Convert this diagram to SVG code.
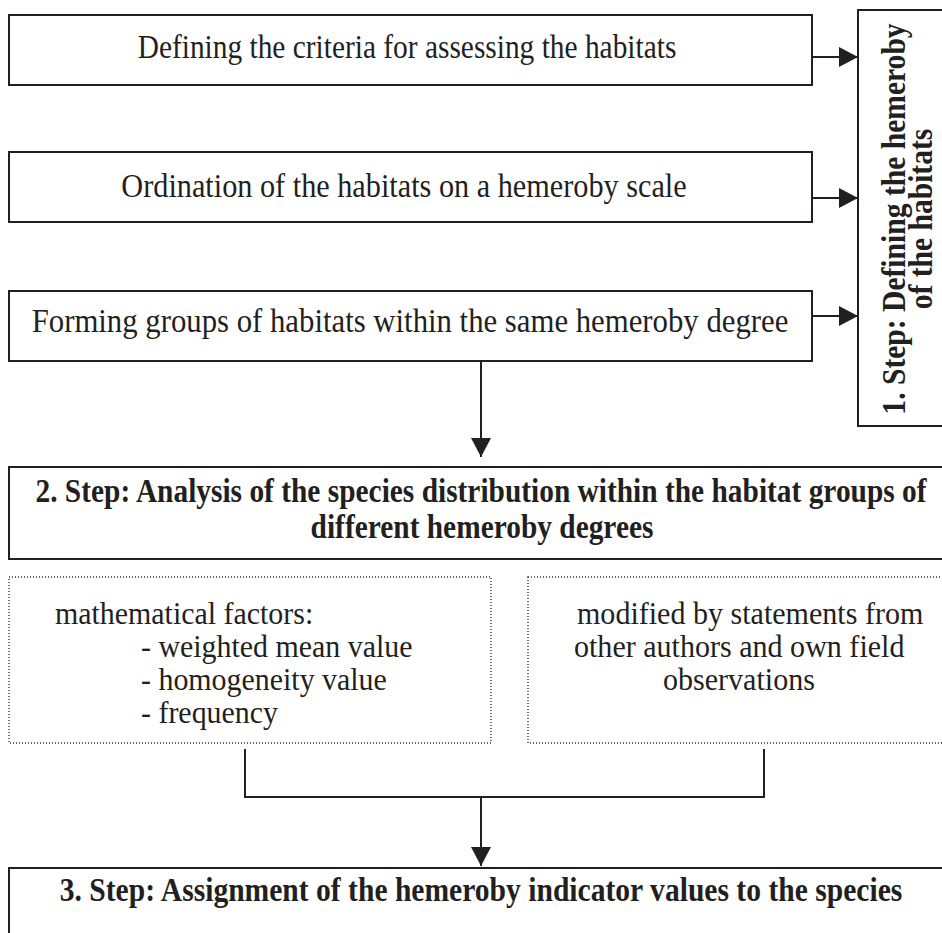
<svg xmlns="http://www.w3.org/2000/svg" width="942" height="933" viewBox="0 0 942 933">
<style>
.box{fill:#fff;stroke:#231f20;stroke-width:2}
.dot{fill:#fff;stroke:#333;stroke-width:1.4;stroke-dasharray:1 2}
.t{font-family:"Liberation Serif","Times New Roman",serif;font-size:34px;fill:#231f20}
.s{font-size:31px}
.b{font-weight:bold}
.m{text-anchor:middle}
.ln{stroke:#231f20;stroke-width:2;fill:none}
</style>
<defs>
<marker id="ah" markerWidth="20" markerHeight="20" refX="19" refY="10" orient="auto" markerUnits="userSpaceOnUse">
<path d="M0,0 L19,10 L0,20 Z" fill="#231f20"/>
</marker>
</defs>
<rect width="942" height="933" fill="#fff"/>
<g id="n1">
<rect class="box" x="9" y="15" width="803" height="70"/>
<text class="t m" transform="translate(407,58) scale(0.865,1)">Defining the criteria for assessing the habitats</text>
</g>
<g id="n2">
<rect class="box" x="9" y="152" width="803" height="70"/>
<text class="t m" transform="translate(404,197) scale(0.89,1)">Ordination of the habitats on a hemeroby scale</text>
</g>
<g id="n3">
<rect class="box" x="9" y="291" width="803" height="70"/>
<text class="t m" transform="translate(410,332) scale(0.905,1)">Forming groups of habitats within the same hemeroby degree</text>
</g>
<g id="step1">
<rect class="box" x="858" y="10" width="100" height="416"/>
<text class="t b m" transform="translate(905,219) rotate(-90) scale(0.87,1)">1. Step: Defining the hemeroby</text>
<text class="t b m" transform="translate(932,219) rotate(-90) scale(0.87,1)">of the habitats</text>
</g>
<g id="step2">
<rect class="box" x="9" y="467" width="950" height="92"/>
<text class="t b m" transform="translate(481,502) scale(0.865,1)">2. Step: Analysis of the species  distribution within the habitat groups of</text>
<text class="t b m" transform="translate(482,538) scale(0.865,1)">different hemeroby degrees</text>
</g>
<g id="math">
<rect class="dot" x="9" y="577" width="482" height="166"/>
<text class="t s" transform="translate(55,624) scale(0.965,1)">mathematical factors:</text>
<text class="t s" transform="translate(141,657) scale(0.965,1)">- weighted mean value</text>
<text class="t s" transform="translate(141,690) scale(0.965,1)">- homogeneity value</text>
<text class="t s" transform="translate(141,723) scale(0.965,1)">- frequency</text>
</g>
<g id="mod">
<rect class="dot" x="528" y="577" width="430" height="166"/>
<text class="t s" transform="translate(577,624) scale(0.97,1)">modified by statements from</text>
<text class="t s" transform="translate(574,657) scale(0.97,1)">other authors and own field</text>
<text class="t s" transform="translate(663,690) scale(0.97,1)">observations</text>
</g>
<g id="step3">
<rect class="box" x="9" y="868" width="950" height="80"/>
<text class="t b m" transform="translate(481,901) scale(0.87,1)">3. Step: Assignment of the hemeroby indicator values to the species</text>
</g>
<g id="connectors">
<line class="ln" x1="812" y1="57" x2="858" y2="57" marker-end="url(#ah)"/>
<line class="ln" x1="812" y1="198" x2="858" y2="198" marker-end="url(#ah)"/>
<line class="ln" x1="812" y1="316" x2="858" y2="316" marker-end="url(#ah)"/>
<line class="ln" x1="481" y1="361" x2="481" y2="457" marker-end="url(#ah)"/>
<polyline class="ln" points="245,749 245,797 764,797 764,749"/>
<line class="ln" x1="481" y1="797" x2="481" y2="866" marker-end="url(#ah)"/>
</g>
</svg>
